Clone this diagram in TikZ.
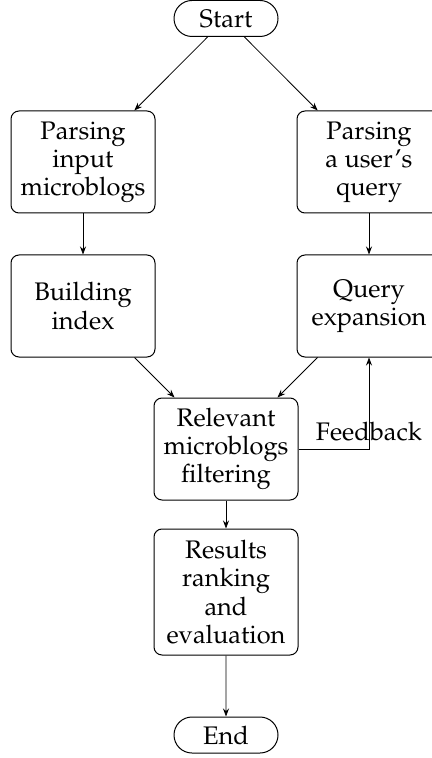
\documentclass[tikz,border=0pt]{standalone}
\usepackage[T1]{fontenc}
\usepackage{mathpazo}
\usetikzlibrary{arrows.meta,shapes.misc}
\begin{document}
\begin{tikzpicture}[x=0.5pt,y=-0.5pt,
  every node/.style={font=\fontsize{12.7}{14.1}\selectfont},
  procbox/.style={draw, rounded corners=4pt, align=center,
    minimum width=72pt, minimum height=51pt, inner sep=0pt, line width=0.5pt},
  termbox/.style={draw, rounded rectangle, minimum width=52pt,
    minimum height=18pt, inner sep=0pt, line width=0.5pt},
  flow/.style={-{Stealth[length=4pt,width=3pt]}, line width=0.4pt}]
\useasboundingbox (0,0) rectangle (432,758);

% terminals
\node[termbox] (start) at (226,18.5) {Start};
\node[termbox] (end) at (226,735) {End};

% processing steps
\node[procbox] (pim) at (83,162) {Parsing\\input\\microblogs};
\node[procbox] (puq) at (369,162) {Parsing\\a user's\\query};
\node[procbox] (bi) at (83,306) {Building\\index};
\node[procbox] (qe) at (369,306) {Query\\expansion};
\node[procbox] (rmf) at (226,449) {Relevant\\microblogs\\filtering};
\node[procbox, minimum height=63pt] (rre) at (226,592) {Results\\ranking\\and\\evaluation};

% flow
\draw[flow] (start) -- (pim);
\draw[flow] (start) -- (puq);
\draw[flow] (pim) -- (bi);
\draw[flow] (puq) -- (qe);
\draw[flow] (bi) -- (rmf);
\draw[flow] (qe) -- (rmf);
\draw[flow] (rmf.east) -| node[pos=0.5, above, inner sep=4pt] {Feedback} (qe.south);
\draw[flow] (rmf) -- (rre);
\draw[flow] (rre) -- (end);
\end{tikzpicture}
\end{document}
